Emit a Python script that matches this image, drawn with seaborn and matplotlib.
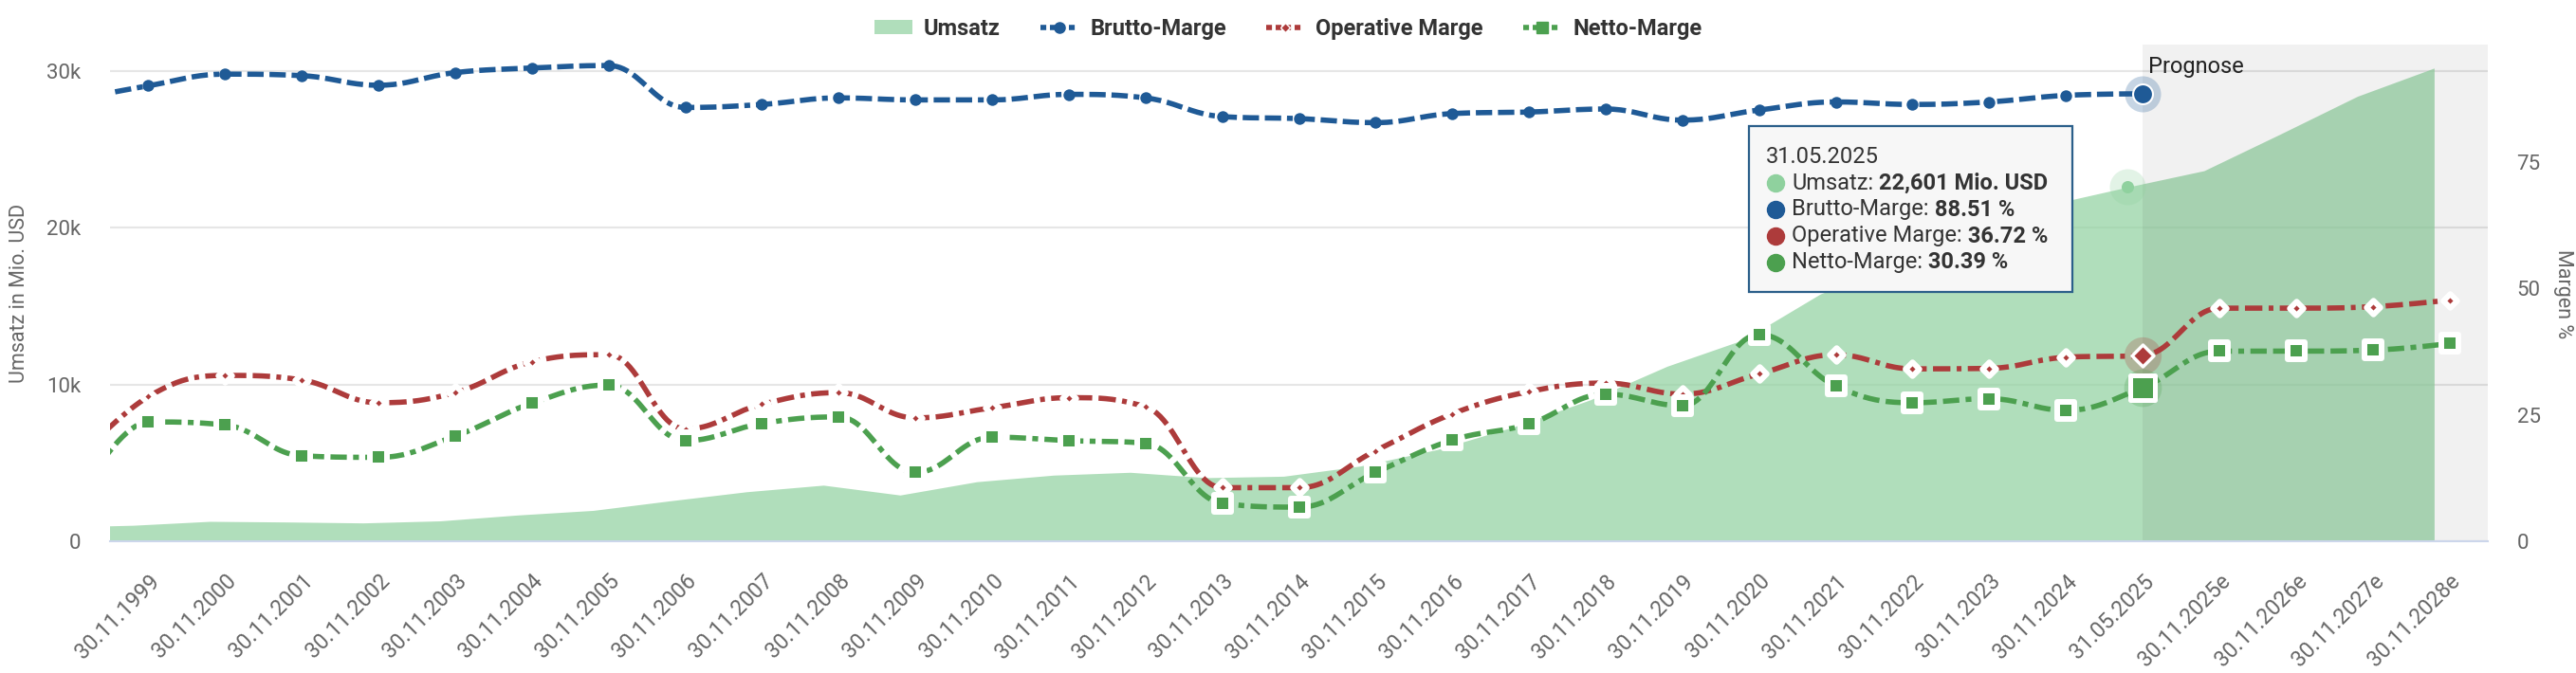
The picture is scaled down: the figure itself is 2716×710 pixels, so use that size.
import numpy as np
import matplotlib
matplotlib.use("Agg")
import matplotlib.pyplot as plt
import seaborn as sns
from matplotlib.lines import Line2D
from matplotlib.patches import Patch, Rectangle
from matplotlib.text import Annotation
from matplotlib.ticker import FuncFormatter

# categories on the x axis
labels = ["30.11.1999", "30.11.2000", "30.11.2001", "30.11.2002", "30.11.2003",
          "30.11.2004", "30.11.2005", "30.11.2006", "30.11.2007", "30.11.2008",
          "30.11.2009", "30.11.2010", "30.11.2011", "30.11.2012", "30.11.2013",
          "30.11.2014", "30.11.2015", "30.11.2016", "30.11.2017", "30.11.2018",
          "30.11.2019", "30.11.2020", "30.11.2021", "30.11.2022", "30.11.2023",
          "30.11.2024", "31.05.2025", "30.11.2025e", "30.11.2026e", "30.11.2027e",
          "30.11.2028e"]

# Umsatz in Mio. USD
umsatz = [1020, 1270, 1230, 1170, 1300, 1670, 1970, 2580, 3160, 3580,
          2950, 3800, 4220, 4400, 4060, 4150, 4800, 5850, 7300, 9030,
          11170, 12870, 15790, 17610, 19410, 21500, 22601, 23650, 26000, 28400,
          30200]

# margins in %
brutto = [90.1, 92.4, 92.1, 90.2, 92.7, 93.6, 94.1, 85.8, 86.4, 87.7,
          87.3, 87.3, 88.4, 87.7, 84.0, 83.6, 82.8, 84.6, 84.9, 85.5,
          83.3, 85.3, 86.9, 86.4, 86.9, 88.2, 88.51]
operative = [28.6, 32.8, 31.9, 27.4, 29.4, 35.5, 36.9, 22.2, 27.1, 29.4,
             24.4, 26.4, 28.4, 26.6, 10.6, 10.6, 17.9, 25.2, 29.6, 31.3,
             29.1, 33.1, 36.9, 34.1, 34.2, 36.4, 36.72, 46.1, 46.1, 46.4,
             47.7]
netto = [23.6, 23.0, 16.9, 16.6, 20.8, 27.3, 30.9, 19.9, 23.3, 24.6,
         13.6, 20.6, 19.9, 19.4, 7.5, 6.75, 13.6, 20.0, 23.2, 29.1,
         26.8, 40.9, 30.7, 27.4, 28.2, 25.9, 30.39, 37.6, 37.6, 37.8,
         39.1]

# the year before the first label, only seen as the clipped start of each curve
umsatz_prev = 900
brutto_prev = 87.2
operative_prev = 15.0
netto_prev = 6.0

prognose_from = "31.05.2025"
tooltip_at = "31.05.2025"

C_UMSATZ = "#8fd19e"
C_BRUTTO = "#1f5a96"
C_OPER = "#ad3b3b"
C_NETTO = "#4ca04f"
GREY = "#666666"


def spline(xs, ys, steps=24):
    # same smoothing rule as a highcharts spline
    xs = np.asarray(xs, float)
    ys = np.asarray(ys, float)
    n = len(xs)
    lc = np.column_stack([xs, ys])
    rc = lc.copy()
    s = 1.5
    d = s + 1
    for i in range(1, n - 1):
        x, y = xs[i], ys[i]
        lx, ly, nx, ny = xs[i - 1], ys[i - 1], xs[i + 1], ys[i + 1]
        lcx, lcy = (s * x + lx) / d, (s * y + ly) / d
        rcx, rcy = (s * x + nx) / d, (s * y + ny) / d
        corr = (rcy - lcy) * (rcx - x) / (rcx - lcx) + y - rcy
        lcy += corr
        rcy += corr
        if lcy > ly and lcy > y:
            lcy = max(ly, y)
            rcy = 2 * y - lcy
        elif lcy < ly and lcy < y:
            lcy = min(ly, y)
            rcy = 2 * y - lcy
        if rcy > ny and rcy > y:
            rcy = max(ny, y)
            lcy = 2 * y - rcy
        elif rcy < ny and rcy < y:
            rcy = min(ny, y)
            lcy = 2 * y - rcy
        lc[i] = (lcx, lcy)
        rc[i] = (rcx, rcy)
    t = np.linspace(0, 1, steps)[1:]
    px, py = [xs[0]], [ys[0]]
    for i in range(1, n):
        a = (1 - t) ** 3
        b = 3 * (1 - t) ** 2 * t
        c = 3 * (1 - t) * t ** 2
        e = t ** 3
        px.extend(a * xs[i - 1] + b * rc[i - 1][0] + c * lc[i][0] + e * xs[i])
        py.extend(a * ys[i - 1] + b * rc[i - 1][1] + c * lc[i][1] + e * ys[i])
    return np.array(px), np.array(py)


sns.set_theme(style="white")
plt.rcParams["font.family"] = ["Roboto", "DejaVu Sans"]

W, H = 2716, 710
fig = plt.figure(figsize=(W / 100, H / 100), dpi=100)
left, right, top, bottom = 116, 2623, 47, 571
ax = fig.add_axes([left / W, 1 - bottom / H, (right - left) / W, (bottom - top) / H])

idx = np.arange(len(labels))
k_tip = labels.index(tooltip_at)
k_prog = labels.index(prognose_from)

# Umsatz area (its points sit a little left of the category centres)
shift = 0.2
ax_x = np.r_[-1, idx] - shift
ax_y = np.r_[umsatz_prev, umsatz]
ax.fill_between(ax_x, ax_y, color=C_UMSATZ, alpha=0.7, lw=0, zorder=1)
ax.axvspan(k_prog, len(labels) - 0.5, color="black", alpha=0.055, lw=0, zorder=1.5)

ax.set_xlim(-0.5, len(labels) - 0.5)
ax.set_ylim(0, 31700)
ax.set_yticks([0, 10000, 20000, 30000])
ax.yaxis.set_major_formatter(FuncFormatter(lambda v, p: "0" if v == 0 else f"{int(v / 1000)}k"))
ax.yaxis.grid(True, color="#e6e6e6", lw=1.5)
ax.set_axisbelow(True)
for sp in ["top", "left", "right"]:
    ax.spines[sp].set_visible(False)
ax.spines["bottom"].set_color("#ccd6eb")
ax.spines["bottom"].set_linewidth(1.5)
ax.spines["bottom"].set_zorder(2)

ax.set_xticks(idx)
ax.set_xticklabels(labels, rotation=45, ha="right", va="top", rotation_mode="anchor")
ax.tick_params(axis="x", length=0, pad=22, labelsize=16.5, labelcolor=GREY)
ax.tick_params(axis="y", length=0, pad=22, labelsize=16, labelcolor=GREY)

ax2 = ax.twinx()
ax2.set_ylim(0, 98.25)
ax2.set_yticks([0, 25, 50, 75])
ax2.tick_params(axis="y", length=0, pad=22, labelsize=16, labelcolor=GREY)
for sp in ax2.spines.values():
    sp.set_visible(False)
ax2.grid(False)

lw = 4.0
series = [
    (brutto_prev, brutto, C_BRUTTO, (0, (3.1, 1.1, 3.1, 1.1, 3.1, 1.1, 1.1, 1.1)), "o", 80, 0),
    (operative_prev, operative, C_OPER, (0, (3.3, 1.2, 3.3, 1.2, 3.3, 1.2, 0.9, 1.2)), "D", 55, 4.3),
    (netto_prev, netto, C_NETTO, (0, (3.1, 1.2, 3.1, 1.2, 1.1, 1.2)), "s", 150, 4.3),
]
z = 3
for prev, vals, col, ls, mk, size, mew in series:
    xs = np.r_[-1, idx[:len(vals)]]
    ys = np.r_[prev, vals]
    sx, sy = spline(xs, ys)
    sns.lineplot(x=sx, y=sy, ax=ax2, color=col, linewidth=lw, linestyle=ls,
                 estimator=None, sort=False, zorder=z)
    sns.scatterplot(x=idx[:len(vals)], y=vals, ax=ax2, marker=mk, s=size, color=col,
                    edgecolor="white", linewidth=mew, zorder=z + 0.5)
    z += 1

# hovered points at the tooltip date
ax.scatter([k_tip - shift], [umsatz[k_tip]], s=750, color=C_UMSATZ, alpha=0.25, lw=0, zorder=2)
ax.scatter([k_tip - shift], [umsatz[k_tip]], s=88, color=C_UMSATZ, lw=0, zorder=2.1)
ax2.scatter([k_tip], [brutto[k_tip]], s=750, color=C_BRUTTO, alpha=0.25, lw=0, zorder=7)
ax2.scatter([k_tip], [brutto[k_tip]], s=227, color=C_BRUTTO, edgecolor="white", lw=1.5, zorder=7.1)
ax2.scatter([k_tip], [operative[k_tip]], s=800, color=C_OPER, alpha=0.25, lw=0, zorder=7)
ax2.scatter([k_tip], [operative[k_tip]], marker="D", s=137, color=C_OPER, edgecolor="white", lw=2.5, zorder=7.1)
ax2.scatter([k_tip], [netto[k_tip]], s=820, color=C_NETTO, alpha=0.25, lw=0, zorder=7)
ax2.scatter([k_tip], [netto[k_tip]], marker="s", s=350, color=C_NETTO, edgecolor="white", lw=3.6, zorder=7.1)


def fx(px):
    return px / W


def fy(py):
    return 1 - py / H


# axis titles
fig.text(fx(21), fy(309), "Umsatz in Mio. USD", rotation=90, ha="center", va="center",
         fontsize=15.5, color=GREY)
fig.text(fx(2702), fy(310), "Margen %", rotation=270, ha="center", va="center",
         fontsize=15.5, color=GREY)
fig.text(fx(2265), fy(70), "Prognose", ha="left", va="center", fontsize=17, color="#222222")

# legend
handles = [
    Patch(facecolor=C_UMSATZ, alpha=0.7, edgecolor="none"),
    Line2D([0], [0], color=C_BRUTTO, lw=lw, linestyle=(0, (1.1, 0.7)), marker="o", ms=8),
    Line2D([0], [0], color=C_OPER, lw=lw, linestyle=(0, (1.1, 0.7)), marker="D", ms=5,
           mec="white", mew=1),
    Line2D([0], [0], color=C_NETTO, lw=lw, linestyle=(0, (1.1, 0.7)), marker="s", ms=8),
]
fig.legend(handles, ["Umsatz", "Brutto-Marge", "Operative Marge", "Netto-Marge"],
           loc="upper center", bbox_to_anchor=(fx(1358), fy(-2)), ncol=4, frameon=False,
           prop={"weight": "bold", "size": 17}, labelcolor="#333333", handlelength=1.7,
           handleheight=0.6, handletextpad=0.5, columnspacing=1.8)

# tooltip
box = Rectangle((fx(1844), fy(308)), fx(2185) - fx(1844), fy(133) - fy(308),
                transform=fig.transFigure, facecolor="#f7f7f7", edgecolor="#2b5f8a", lw=1.6)
fig.add_artist(box)
fig.text(fx(1862), fy(165), tooltip_at, ha="left", va="center", fontsize=17, color="#333333")
rows = [
    ("Umsatz:", f" {umsatz[k_tip]:,} Mio. USD", C_UMSATZ),
    ("Brutto-Marge:", f" {brutto[k_tip]:.2f} %", C_BRUTTO),
    ("Operative Marge:", f" {operative[k_tip]:.2f} %", C_OPER),
    ("Netto-Marge:", f" {netto[k_tip]:.2f} %", C_NETTO),
]
for j, (name, val, col) in enumerate(rows):
    y = fy(193 + 28 * j)
    fig.add_artist(Line2D([fx(1872)], [y], transform=fig.transFigure, marker="o", ms=13,
                          color=col, lw=0))
    t = fig.text(fx(1889), y, name, ha="left", va="center", fontsize=17, color="#333333")
    fig.add_artist(Annotation(val, xy=(1, 0.5), xycoords=t, ha="left", va="center",
                              fontsize=17, fontweight="bold", color="#333333"))

fig.savefig("out.png", dpi=100)
